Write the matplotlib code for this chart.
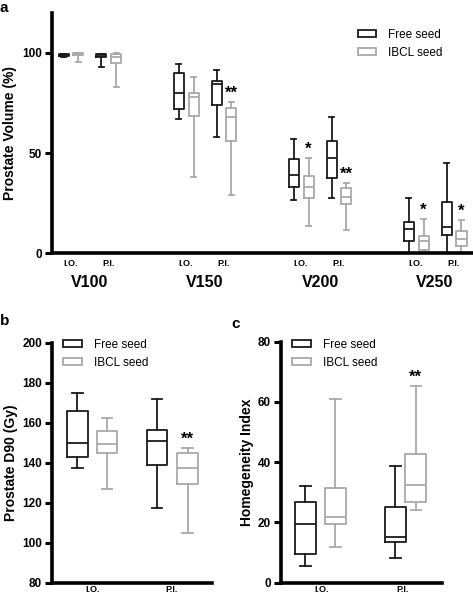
import matplotlib
matplotlib.use('Agg')
import matplotlib.pyplot as plt
from matplotlib.patches import Patch

plt.rcParams['font.family'] = ['Liberation Sans', 'DejaVu Sans']
plt.rcParams['font.weight'] = 'bold'

FREE = '#1a1a1a'
IBCL = '#a9a9a9'

## Panel a data: each box is [whisker low, q1, median, q3, whisker high]
groups = ['V100', 'V150', 'V200', 'V250']
times = ['I.O.', 'P.I.']
vol_free_io = [[97.7, 98.2, 98.9, 99.4, 99.6], [67.1, 72.1, 80.1, 89.7, 94.4],
               [26.6, 32.9, 39.2, 46.9, 57.1], [0.0, 6.3, 12.0, 15.6, 27.6]]
vol_ibcl_io = [[95.4, 98.8, 99.3, 99.7, 99.8], [38.2, 68.4, 78.1, 80.1, 88.0],
               [13.6, 27.6, 32.9, 38.5, 47.5], [0.3, 1.5, 6.0, 8.6, 17.2]]
vol_free_pi = [[93.0, 97.7, 98.6, 99.4, 99.5], [58.1, 73.8, 84.4, 86.0, 91.4],
               [27.6, 37.5, 47.5, 56.1, 67.8], [0.0, 9.0, 13.3, 25.6, 45.2]]
vol_ibcl_pi = [[83.0, 95.0, 98.0, 99.5, 99.8], [28.9, 56.1, 67.8, 72.4, 75.4],
               [11.6, 24.6, 28.2, 32.6, 35.2], [0.8, 3.6, 7.3, 11.3, 16.6]]
# significance marks on the IBCL boxes (group index, time, mark)
vol_marks = [(1, 'P.I.', '**'), (2, 'I.O.', '*'), (2, 'P.I.', '**'), (3, 'I.O.', '*'), (3, 'P.I.', '*')]

## Panel b data (Prostate D90)
d90_free = [[137.2, 142.7, 149.7, 166.0, 174.7], [117.5, 138.8, 151.0, 156.3, 171.7]]
d90_ibcl = [[126.7, 144.7, 149.4, 156.0, 162.5], [105.0, 129.3, 137.5, 145.0, 147.5]]

## Panel c data (Homogeneity index)
hi_free = [[5.5, 9.5, 19.4, 26.7, 32.2], [8.3, 13.4, 15.3, 25.2, 38.7]]
hi_ibcl = [[11.7, 19.4, 21.9, 31.5, 61.0], [24.1, 26.7, 32.3, 42.6, 65.3]]


def to_stats(rows):
    return [dict(whislo=r[0], q1=r[1], med=r[2], q3=r[3], whishi=r[4]) for r in rows]


def draw(ax, rows, pos, color, width):
    lw = 1.3
    ax.bxp(to_stats(rows), positions=pos, widths=width, showfliers=False, manage_ticks=False,
           boxprops=dict(color=color, lw=lw), whiskerprops=dict(color=color, lw=lw),
           capprops=dict(color=color, lw=lw), medianprops=dict(color=color, lw=lw))


def style(ax, xpad):
    for s in ['top', 'right']:
        ax.spines[s].set_visible(False)
    for s in ['left', 'bottom']:
        ax.spines[s].set_linewidth(2.6)
    ax.tick_params(axis='y', length=5, width=2.2, labelsize=8.5, pad=2)
    ax.tick_params(axis='x', length=0, labelsize=6.5, pad=xpad)
    for t in ax.get_yticklabels() + ax.get_xticklabels():
        t.set_fontweight('bold')


def legend(ax, x, y):
    handles = [Patch(facecolor='white', edgecolor=FREE, lw=1.3, label='Free seed'),
               Patch(facecolor='white', edgecolor=IBCL, lw=1.3, label='IBCL seed')]
    leg = ax.legend(handles=handles, loc='upper left', bbox_to_anchor=(x, y),
                    bbox_transform=ax.figure.transFigure, frameon=False, borderpad=0,
                    borderaxespad=0, handlelength=1.6, handleheight=0.55,
                    handletextpad=1.0, labelspacing=0.55,
                    prop=dict(size=8.5, weight='normal'))
    return leg


fig = plt.figure(figsize=(4.73, 5.94), dpi=100)

## Panel a
ax = fig.add_axes([0.110, 0.5735, 0.890, 0.4052])
gx = list(range(len(groups)))
draw(ax, vol_free_io, [g - 0.23 for g in gx], FREE, 0.087)
draw(ax, vol_ibcl_io, [g - 0.10 for g in gx], IBCL, 0.087)
draw(ax, vol_free_pi, [g + 0.10 for g in gx], FREE, 0.087)
draw(ax, vol_ibcl_pi, [g + 0.23 for g in gx], IBCL, 0.087)
for g, t, m in vol_marks:
    if t == 'I.O.':
        x, top = g - 0.10, vol_ibcl_io[g][4]
    else:
        x, top = g + 0.23, vol_ibcl_pi[g][4]
    ax.text(x, top + 0.5, m, ha='center', va='bottom', fontsize=12, fontweight='bold')
ax.set_xlim(-0.33, 3.33)
ax.set_ylim(0, 120)
ax.set_yticks([0, 50, 100])
ax.set_xticks([g + d for g in gx for d in (-0.165, 0.165)])
ax.set_xticklabels(times * len(groups))
for g, name in zip(gx, groups):
    ax.text(g, -0.12, name, transform=ax.get_xaxis_transform(), ha='center', va='center',
            fontsize=11.5, fontweight='bold')
ax.set_ylabel('Prostate Volume (%)', fontsize=10, fontweight='bold', labelpad=4)
style(ax, 4)
legend(ax, 0.756, 0.952)
fig.text(0.0, 0.998, 'a', fontsize=11, fontweight='bold', va='top', ha='left')

## Panel b
ax = fig.add_axes([0.1093, 0.019, 0.3383, 0.404])
draw(ax, d90_free, [0.80, 1.82], FREE, 0.265)
draw(ax, d90_ibcl, [1.18, 2.21], IBCL, 0.265)
ax.text(2.21, d90_ibcl[1][4] + 0.5, '**', ha='center', va='bottom', fontsize=12, fontweight='bold')
ax.set_xlim(0.47, 2.52)
ax.set_ylim(80, 200)
ax.set_yticks(range(80, 201, 20))
ax.set_xticks([1, 2])
ax.set_xticklabels(times)
ax.set_ylabel('Prostate D90 (Gy)', fontsize=10, fontweight='bold', labelpad=3)
style(ax, 1.5)
legend(ax, 0.133, 0.430)
fig.text(0.0, 0.472, 'b', fontsize=11, fontweight='bold', va='top', ha='left')

## Panel c
ax = fig.add_axes([0.5934, 0.019, 0.3404, 0.4057])
draw(ax, hi_free, [0.80, 1.91], FREE, 0.255)
draw(ax, hi_ibcl, [1.17, 2.16], IBCL, 0.255)
ax.text(2.16, hi_ibcl[1][4] + 0.3, '**', ha='center', va='bottom', fontsize=12, fontweight='bold')
ax.set_xlim(0.494, 2.48)
ax.set_ylim(0, 80)
ax.set_yticks(range(0, 81, 20))
ax.set_xticks([1, 2])
ax.set_xticklabels(times)
ax.set_ylabel('Homegeneity Index', fontsize=10, fontweight='bold', labelpad=3)
style(ax, 1.5)
legend(ax, 0.617, 0.430)
fig.text(0.49, 0.467, 'c', fontsize=11, fontweight='bold', va='top', ha='left')

fig.savefig('out.png', dpi=100)
